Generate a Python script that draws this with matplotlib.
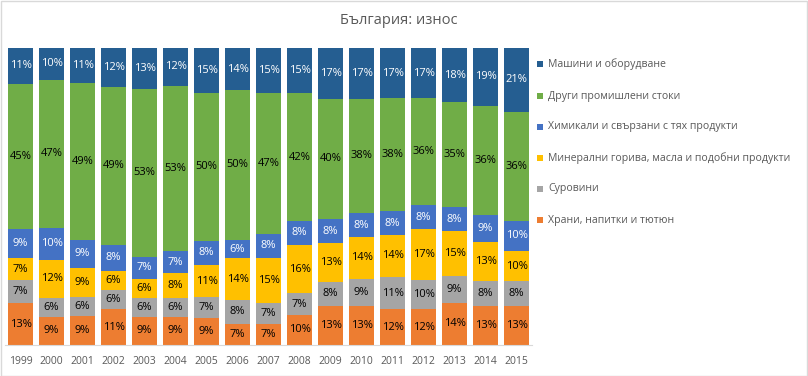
import matplotlib
matplotlib.use("Agg")
import matplotlib.pyplot as plt
import numpy as np
from matplotlib.patches import Rectangle

years = [str(y) for y in range(1999, 2016)]
series_names = [
    "Храни, напитки и тютюн",
    "Суровини",
    "Минерални горива, масла и подобни продукти",
    "Химикали и свързани с тях продукти",
    "Други промишлени стоки",
    "Машини и оборудване",
]
food = [13, 9, 9, 11, 9, 9, 9, 7, 7, 10, 13, 13, 12, 12, 14, 13, 13]
raw = [7, 6, 6, 6, 6, 6, 7, 8, 7, 7, 8, 9, 11, 10, 9, 8, 8]
fuels = [7, 12, 9, 6, 6, 8, 11, 14, 15, 16, 13, 14, 14, 17, 15, 13, 10]
chem = [9, 10, 9, 8, 7, 7, 8, 6, 8, 8, 8, 8, 8, 8, 8, 9, 10]
other = [45, 47, 49, 49, 53, 53, 50, 50, 47, 42, 40, 38, 38, 36, 35, 36, 36]
machines = [11, 10, 11, 12, 13, 12, 15, 14, 15, 15, 17, 17, 17, 17, 18, 19, 21]

colors = ["#ED7D31", "#A5A5A5", "#FFC000", "#4472C4", "#70AD47", "#255E91"]
label_colors = ["black", "black", "black", "white", "black", "white"]

plt.rcParams['font.family'] = ['Open Sans', 'DejaVu Sans']

W, H = 808, 376
fig = plt.figure(figsize=(W / 100, H / 100), dpi=100)
left, right, top, bottom = 5, 532, 48, 345
ax = fig.add_axes([left / W, (H - bottom) / H, (right - left) / W, (bottom - top) / H])

data = np.array([food, raw, fuels, chem, other, machines], dtype=float)
totals = data.sum(axis=0)
shares = data / totals * 100
x = np.arange(len(years))
base = np.zeros(len(years))
for i, name in enumerate(series_names):
    ax.bar(x, shares[i], bottom=base, width=0.8, color=colors[i], label=name)
    for j in range(len(years)):
        ax.text(x[j], base[j] + shares[i][j] / 2, f"{int(data[i][j])}%",
                ha="center", va="center", fontsize=8, color=label_colors[i])
    base += shares[i]

ax.set_xlim(-0.5, len(years) - 0.5)
ax.set_ylim(0, 100)
ax.set_yticks([])
ax.set_xticks(x)
ax.set_xticklabels(years, fontsize=7.5, color="#595959")
ax.tick_params(axis="x", length=0, pad=8)
for s in ["top", "right", "left"]:
    ax.spines[s].set_visible(False)
ax.spines["bottom"].set_color("#D9D9D9")

fig.text(399 / W, 1 - 20 / H, "България: износ", ha="center", va="center",
         fontsize=10.5, color="#595959")

# legend (top entry = last series)
leg_y = [64, 96, 127, 158, 189, 220]
for k, i in enumerate(reversed(range(len(series_names)))):
    y = leg_y[k]
    fig.patches.append(Rectangle(((540 - 3) / W, 1 - (y + 3) / H), 6 / W, 6 / H,
                                 transform=fig.transFigure, facecolor=colors[i],
                                 edgecolor="none"))
    fig.text(548 / W, 1 - y / H, series_names[i], ha="left", va="center",
             fontsize=7.6, color="#595959")

fig.patches.append(Rectangle((0.5 / W, 0.5 / H), (W - 1.5) / W, (H - 1.5) / H,
                             transform=fig.transFigure, facecolor="none",
                             edgecolor="#D9D9D9", linewidth=1))

fig.savefig("out.png", dpi=100)
